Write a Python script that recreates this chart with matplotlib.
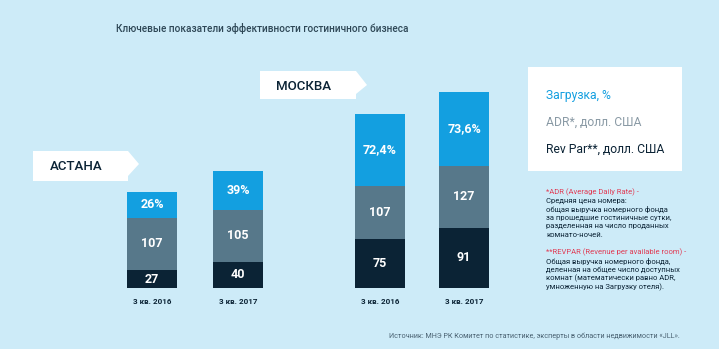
import matplotlib.pyplot as plt
from matplotlib.patches import Polygon, Rectangle

# данные
periods = ['3 кв. 2016', '3 кв. 2017', '3 кв. 2016', '3 кв. 2017']
cities = ['АСТАНА', 'МОСКВА']
revpar = [27, 40, 75, 91]
adr = [107, 105, 107, 127]
occupancy = [26, 39, 72.4, 73.6]
occ_labels = ['26%', '39%', '72,4%', '73,6%']
legend_labels = ['Загрузка, %', 'ADR*, долл. США', 'Rev Par**, долл. США']

# цвета
bg = '#cdebf8'
c_occ = '#139fe0'
c_adr = '#57788a'
c_rev = '#0b2335'
c_title = '#2e4756'
c_red = '#e03c55'

plt.rcParams['font.family'] = ['Roboto', 'DejaVu Sans']

fig = plt.figure(figsize=(7.19, 3.49), dpi=100)
fig.patch.set_facecolor(bg)

# фон/подписи в пикселях
ax_bg = fig.add_axes([0, 0, 1, 1])
ax_bg.set_xlim(0, 719)
ax_bg.set_ylim(349, 0)
ax_bg.axis('off')

# столбцы: единица = пиксель, масштаб у каждого показателя свой
ax = fig.add_axes([0, 61 / 349, 1, 288 / 349])
ax.set_xlim(0, 719)
ax.set_ylim(0, 288)
ax.axis('off')
ax.patch.set_alpha(0)

x = [152, 238, 380, 464]
w = 50
k_rev, k_adr, k_occ = 0.66, 0.49, 1.0

h_rev = [v * k_rev for v in revpar]
h_adr = [v * k_adr for v in adr]
h_occ = [v * k_occ for v in occupancy]
b_adr = h_rev
b_occ = [a + b for a, b in zip(h_rev, h_adr)]

ax.bar(x, h_rev, w, color=c_rev)
ax.bar(x, h_adr, w, bottom=b_adr, color=c_adr)
ax.bar(x, h_occ, w, bottom=b_occ, color=c_occ)

for i in range(4):
    ax.text(x[i], h_rev[i] / 2, str(revpar[i]), ha='center', va='center',
            color='white', fontsize=9, fontweight='bold')
    ax.text(x[i], b_adr[i] + h_adr[i] / 2, str(adr[i]), ha='center', va='center',
            color='white', fontsize=9, fontweight='bold')
    ax.text(x[i], b_occ[i] + h_occ[i] / 2, occ_labels[i], ha='center', va='center',
            color='white', fontsize=9, fontweight='bold')
    ax_bg.text(x[i], 302, periods[i], ha='center', va='center',
               color=c_rev, fontsize=5.8, fontweight='bold')

# заголовок
ax_bg.text(262, 29, 'Ключевые показатели эффективности гостиничного бизнеса',
           ha='center', va='center', color=c_title, fontsize=7.2, fontweight='medium')

# плашки городов
ax_bg.add_patch(Polygon([(33, 151), (128, 151), (139, 164), (128, 176), (128, 181), (33, 181)],
                        closed=True, color='white', lw=0))
ax_bg.text(76, 166, cities[0], ha='center', va='center', color=c_rev, fontsize=9.5,
           fontweight='medium')
ax_bg.add_patch(Polygon([(260, 71), (356, 71), (367, 85), (356, 94), (356, 99), (260, 99)],
                        closed=True, color='white', lw=0))
ax_bg.text(304, 86, cities[1], ha='center', va='center', color=c_rev, fontsize=9.5,
           fontweight='medium')

# легенда
ax_bg.add_patch(Rectangle((528, 67), 154, 104, color='white', lw=0))
leg_colors = [c_occ, '#8a9aa5', c_rev]
for i, (t, c) in enumerate(zip(legend_labels, leg_colors)):
    ax_bg.text(546, 95 + i * 27, t, ha='left', va='center', color=c, fontsize=8.7)

# сноски
notes1 = ['Средняя цена номера:',
          'общая выручка номерного фонда',
          'за прошедшие гостиничные сутки,',
          'разделенная на число проданных',
          'комнато-ночей.']
notes2 = ['Общая выручка номерного фонда,',
          'деленная на общее число доступных',
          'комнат (математически равно ADR,',
          'умноженную на Загрузку отеля).']
ax_bg.text(546, 192, '*ADR (Average Daily Rate) -', color=c_red, fontsize=5.5, va='center')
for i, t in enumerate(notes1):
    ax_bg.text(546, 201 + i * 8.4, t, color=c_rev, fontsize=5.5, va='center')
ax_bg.text(546, 252, '**REVPAR (Revenue per available room) -', color=c_red, fontsize=5.5, va='center')
for i, t in enumerate(notes2):
    ax_bg.text(546, 261 + i * 8.7, t, color=c_rev, fontsize=5.5, va='center')

# источник
ax_bg.text(680, 336, 'Источник: МНЭ РК Комитет по статистике, эксперты в области недвижимости «JLL».',
           ha='right', va='center', color='#4a6272', fontsize=5.2)

fig.savefig('out.png', dpi=100, facecolor=bg)
